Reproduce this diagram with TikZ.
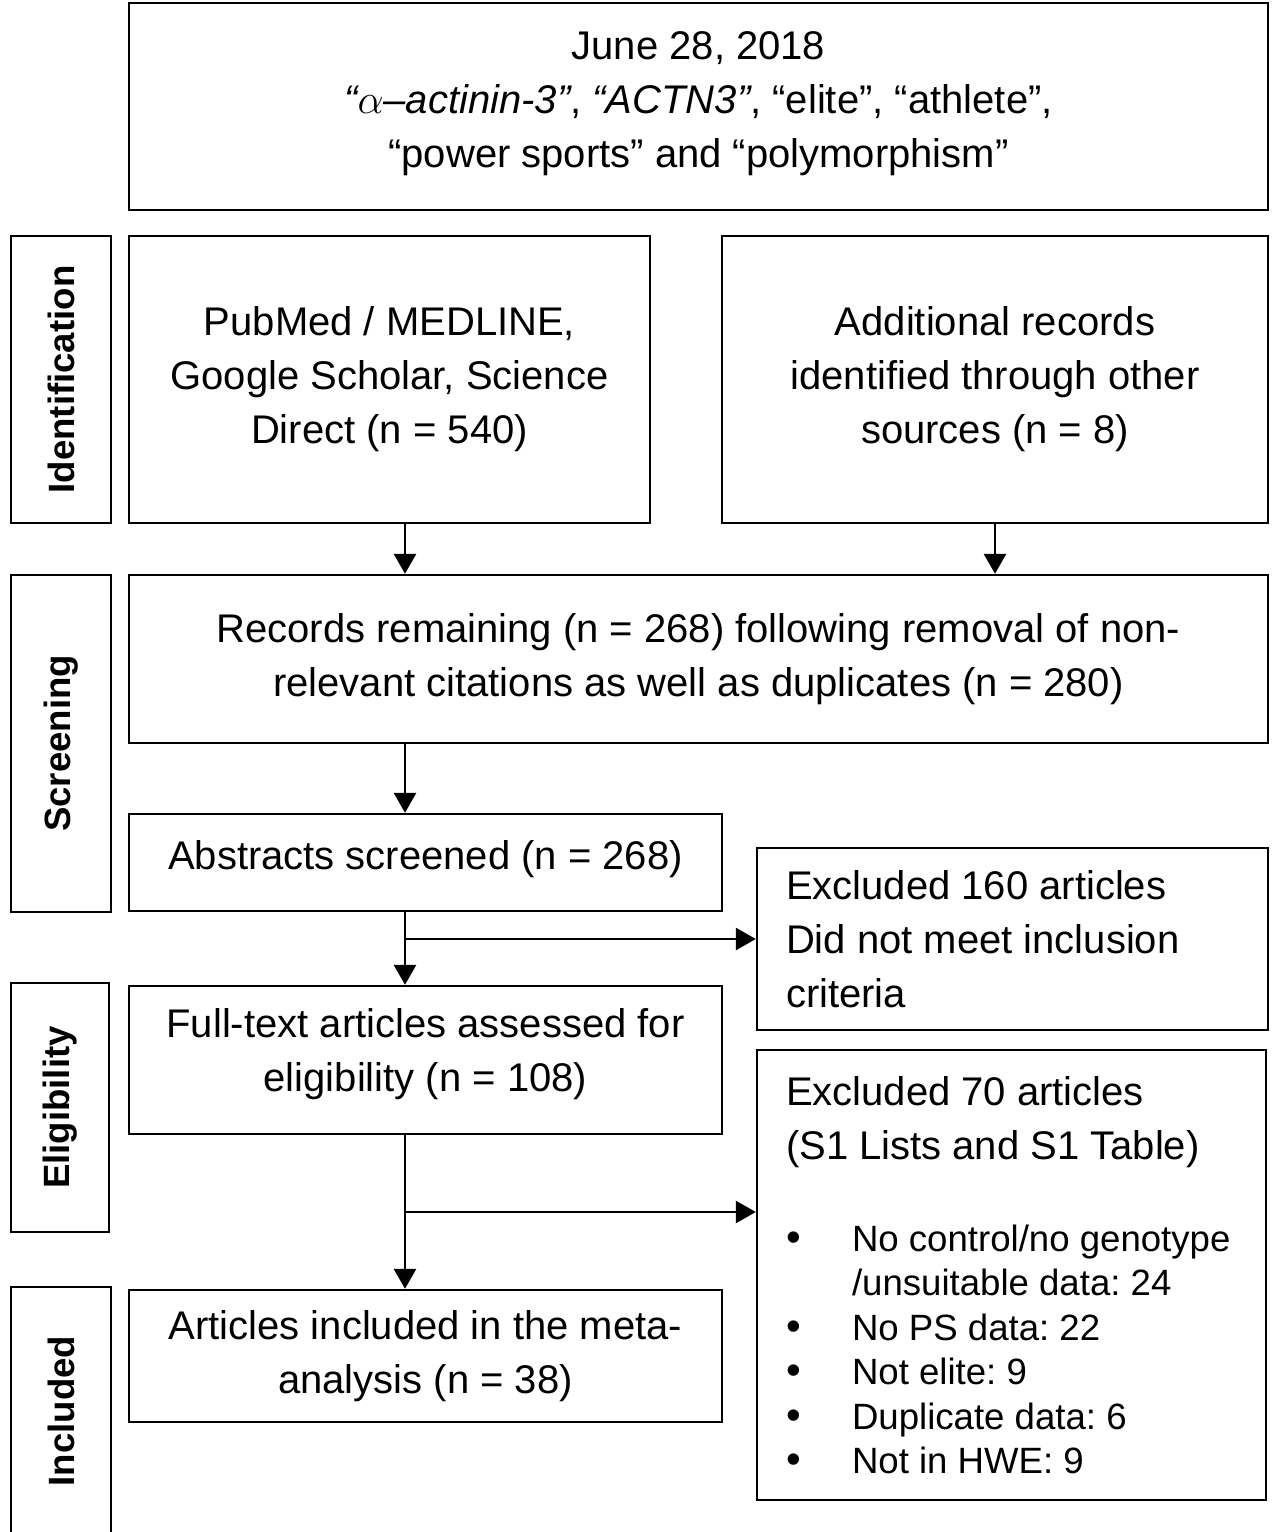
\documentclass[tikz,border=0pt]{standalone}
\usepackage{fontspec}
\setmainfont{Liberation Sans}
\usetikzlibrary{arrows.meta,calc}
\setlength{\parindent}{0pt}
\frenchspacing
\newcommand{\bulletitem}{\makebox[33pt][l]{\fontsize{21}{21}\selectfont\textbullet}}
\tikzset{
  stage/.style={draw=black,line width=1.2pt,align=center,inner sep=0pt,
                font=\fontsize{20}{27}\selectfont},
  lstage/.style={stage,align=flush left},
  phase/.style={draw=black,line width=1.2pt,rotate=90,inner sep=0pt,
                font=\fontsize{18.3}{22}\selectfont\bfseries},
  flow/.style={-{Triangle[length=10pt,width=11pt]},line width=1.4pt},
}

\begin{document}
\begin{tikzpicture}[x=0.5pt,y=-0.5pt]
  \useasboundingbox (0,0) rectangle (1273,1532);
  \coordinate (spine) at (405,0);
  \node[stage,minimum width=569.5pt,minimum height=103.5pt,text depth=7pt] (query) at (698.5,106.5)
    {June 28, 2018\\ \textit{“$\alpha$–actinin-3”}, \textit{“ACTN3”}, “elite”, “athlete”,\\ “power sports” and “polymorphism”};
  % identification
  \node[phase,minimum width=143.5pt,minimum height=50pt] (ident) at (61,379.5) {Identification};
  \node[stage,minimum width=260.5pt,minimum height=143.5pt] (pubmed) at (389.5,379.5)
    {PubMed / MEDLINE,\\Google Scholar, Science\\Direct (n = 540)};
  \node[stage,minimum width=273pt,minimum height=143.5pt] (other) at (995,379.5)
    {Additional records\\identified through other\\sources (n = 8)};
  % screening
  \node[phase,minimum width=168.5pt,minimum height=50pt] (screen) at (61,743.5) {Screening};
  \node[stage,minimum width=569.5pt,minimum height=84pt] (records) at (698.5,659)
    {Records remaining (n = 268) following removal of non-\\relevant citations as well as duplicates (n = 280)};
  \node[stage,minimum width=296.5pt,minimum height=48.5pt,text depth=8pt] (abstracts) at (425.5,862.5)
    {Abstracts screened (n = 268)};
  \node[lstage,text width=226.5pt,minimum width=255.5pt,minimum height=91pt] (excl1) at (1012.5,939)
    {Excluded 160 articles\\Did not meet inclusion\\criteria};
  % eligibility
  \node[phase,minimum width=124.5pt,minimum height=49pt] (elig) at (60,1107.5) {Eligibility};
  \node[stage,minimum width=296.5pt,minimum height=74pt,text depth=10pt] (fulltext) at (425.5,1060)
    {Full-text articles assessed for\\eligibility (n = 108)};
  \node[lstage,text width=225.5pt,minimum width=254.5pt,minimum height=225pt] (excl2) at (1011.5,1275)
    {Excluded 70 articles\\(S1 Lists and S1 Table)\par\vspace{24pt}\fontsize{18.3}{22.2}\selectfont
     \bulletitem No control/no genotype\\
     \hspace*{33pt}/unsuitable data: 24\\
     \bulletitem No PS data: 22\\
     \bulletitem Not elite: 9\\
     \bulletitem Duplicate data: 6\\
     \bulletitem Not in HWE: 9\par\vspace{5pt}};
  % included
  \node[phase,minimum width=124pt,minimum height=50pt] (incl) at (61,1411) {Included};
  \node[stage,minimum width=296.5pt,minimum height=66pt] (articles) at (425.5,1356)
    {Articles included in the meta-\\analysis (n = 38)};

  \draw[flow] (pubmed.south -| spine) -- (records.north -| spine);
  \draw[flow] (other.south) -- (other.south |- records.north);
  \draw[flow] (records.south -| spine) -- (abstracts.north -| spine);
  \draw[flow] (abstracts.south -| spine) -- (fulltext.north -| spine);
  \draw[flow] (spine |- excl1.west) -- (excl1.west);
  \draw[flow] (fulltext.south -| spine) -- (articles.north -| spine);
  \coordinate (fork) at ($(fulltext.south)!0.5!(articles.north)$);
  \draw[flow] (spine |- fork) -- (fork -| excl2.west);
\end{tikzpicture}
\end{document}
